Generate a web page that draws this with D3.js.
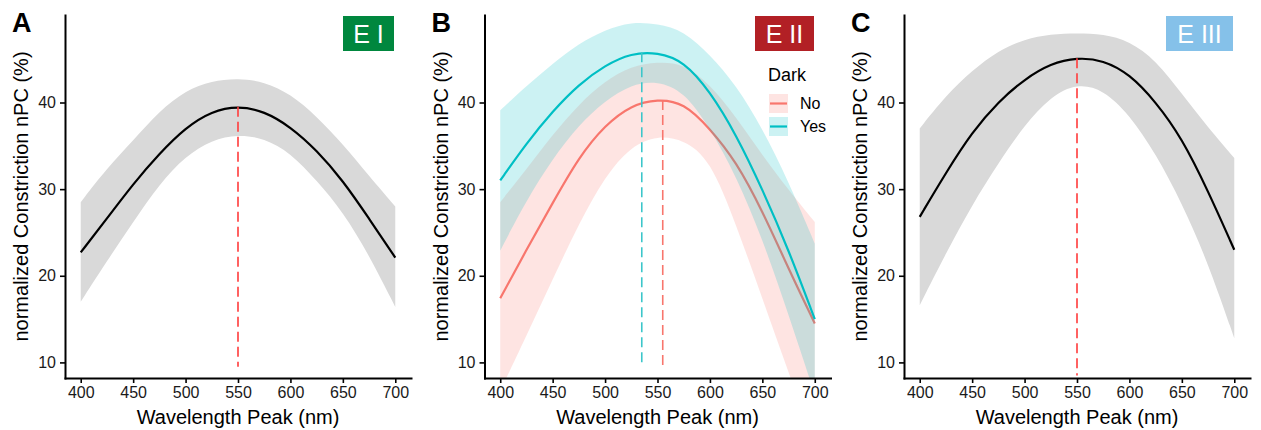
<!DOCTYPE html>
<html>
<head>
<meta charset="utf-8">
<script src="https://cdn.jsdelivr.net/npm/d3@7/dist/d3.min.js"></script>
<style>
  body { margin: 0; background: #fff; }
  svg { font-family: "Liberation Sans", Arial, Helvetica, sans-serif; }
</style>
</head>
<body>
<svg id="chart" width="1261" height="430"></svg>
<script>
// wavelength grid the fitted curves were read at (nm)
const wavelengths = [400, 425, 450, 475, 500, 525, 550, 575, 600, 625, 650, 675, 700];
const xTicks = [400, 450, 500, 550, 600, 650, 700];
const yTicks = [10, 20, 30, 40];

// E I
const e1Fit   = [22.7, 26.6, 30.6, 34.1, 37.1, 39.0, 39.6, 39.0, 37.2, 34.5, 31.0, 26.6, 22.1];
const e1Upper = [28.5, 32.4, 35.6, 39.0, 41.4, 42.5, 42.8, 42.4, 41.0, 38.4, 35.2, 31.5, 28.0];
const e1Lower = [17.0, 21.7, 26.2, 30.6, 33.8, 35.7, 36.3, 35.9, 34.2, 31.0, 27.4, 22.4, 16.4];

// E II, split by Dark
const darkGroups = ["No", "Yes"];
const e2NoFit    = [17.4, 23.0, 28.4, 33.7, 37.4, 39.7, 40.4, 40.0, 37.0, 33.2, 27.5, 20.8, 14.5];
const e2NoUpper  = [28.5, 32.3, 36.3, 39.8, 42.5, 44.2, 44.7, 44.5, 42.1, 38.3, 33.9, 29.9, 26.2];
const e2NoLower  = [6.7, 13.1, 19.6, 26.0, 31.5, 35.0, 36.2, 35.7, 33.5, 25.9, 17.4, 8.8, 0.5];
const e2YesFit   = [31.0, 35.3, 39.0, 42.1, 44.3, 45.7, 45.8, 44.8, 41.3, 36.3, 30.0, 23.0, 15.0];
const e2YesUpper = [39.1, 41.9, 44.5, 46.8, 48.4, 49.3, 49.1, 48.3, 45.5, 42.0, 37.0, 30.9, 23.7];
const e2YesLower = [22.9, 28.7, 33.5, 37.4, 40.2, 42.1, 42.5, 41.3, 37.1, 31.5, 24.3, 15.5, 6.3];

// E III
const e3Fit   = [26.8, 31.9, 36.6, 40.1, 42.7, 44.5, 45.2, 44.9, 43.3, 40.1, 35.9, 29.8, 23.0];
const e3Upper = [37.0, 40.8, 43.7, 46.0, 47.3, 47.9, 48.0, 47.9, 47.1, 44.9, 41.0, 37.1, 33.6];
const e3Lower = [16.6, 22.6, 28.2, 33.0, 37.4, 40.7, 42.2, 41.5, 38.6, 34.1, 28.4, 21.5, 12.8];

// peak wavelength, curve value at peak, bottom of the dashed marker
const e1Peak = [550, 39.5, 9.5];
const e2Peaks = [[555, 40.3, 9.5], [535, 45.8, 9.5]];
const e3Peak = [550, 45.1, 8.5];

const svg = d3.select("#chart");

const panels = [
  {
    letter: "A", left: 65, badge: "E I", badgeColor: "#00873e", badgeX: 343, badgeW: 51,
    series: [{ fit: e1Fit, upper: e1Upper, lower: e1Lower, line: "#000", fill: "#d9d9d9", alpha: 1 }],
    peaks: [{ p: e1Peak, color: "#ff3b3b" }]
  },
  {
    letter: "B", left: 484.5, badge: "E II", badgeColor: "#b22025", badgeX: 755, badgeW: 59,
    series: [
      { fit: e2NoFit, upper: e2NoUpper, lower: e2NoLower, line: "#f8766d", fill: "#f8766d", alpha: 0.2 },
      { fit: e2YesFit, upper: e2YesUpper, lower: e2YesLower, line: "#00bfc4", fill: "#00bfc4", alpha: 0.2 }
    ],
    peaks: [{ p: e2Peaks[0], color: "#f8766d" }, { p: e2Peaks[1], color: "#3cc6ca" }]
  },
  {
    letter: "C", left: 904, badge: "E III", badgeColor: "#85c1e9", badgeX: 1166, badgeW: 67,
    series: [{ fit: e3Fit, upper: e3Upper, lower: e3Lower, line: "#000", fill: "#d9d9d9", alpha: 1 }],
    peaks: [{ p: e3Peak, color: "#ff3b3b" }]
  }
];

panels.forEach((panel, i) => drawPanel(panel, i));
drawLegend();

function drawPanel (panel, i) {
  const top = 15;
  const bottom = 378;
  const width = 346;
  const x = d3.scaleLinear().domain([385, 715]).range([panel.left, panel.left + width]);
  const y = d3.scaleLinear().domain([8.2, 50.1]).range([bottom, top]);

  const g = svg.append("g");

  g.append("clipPath")
      .attr("id", "clip" + i)
    .append("rect")
      .attr("x", panel.left)
      .attr("y", top)
      .attr("width", width)
      .attr("height", bottom - top);

  const plot = g.append("g").attr("clip-path", `url(#clip${i})`);

  const area = d3.area()
      .x((d, k) => x(wavelengths[k]))
      .y0(d => y(d[0]))
      .y1(d => y(d[1]))
      .curve(d3.curveBasis);

  const line = d3.line()
      .x((d, k) => x(wavelengths[k]))
      .y(d => y(d))
      .curve(d3.curveBasis);

  // ribbon then line for each group, like geom_smooth
  panel.series.forEach(s => {
    const band = s.lower.map((lo, k) => [lo, s.upper[k]]);
    plot.append("path")
      .attr("d", area(band))
      .attr("fill", s.fill)
      .attr("fill-opacity", s.alpha);
    plot.append("path")
      .attr("d", line(s.fit))
      .attr("fill", "none")
      .attr("stroke", s.line)
      .attr("stroke-width", 2.2);
  });

  panel.peaks.forEach(pk => {
    plot.append("line")
      .attr("x1", x(pk.p[0]))
      .attr("x2", x(pk.p[0]))
      .attr("y1", y(pk.p[1]))
      .attr("y2", y(pk.p[2]))
      .attr("stroke", pk.color)
      .attr("stroke-width", 1.6)
      .attr("stroke-dasharray", "10,5");
  });

  // axes
  const xAxis = g.append("g")
      .attr("transform", `translate(0,${bottom})`)
      .call(d3.axisBottom(x).tickValues(xTicks).tickSize(5).tickSizeOuter(0).tickPadding(4));
  const yAxis = g.append("g")
      .attr("transform", `translate(${panel.left},0)`)
      .call(d3.axisLeft(y).tickValues(yTicks).tickSize(5).tickSizeOuter(0).tickPadding(4));

  [xAxis, yAxis].forEach(ax => {
    ax.select(".domain").attr("stroke", "#000").attr("stroke-width", 2).attr("stroke-linecap", "square");
    ax.selectAll(".tick line").attr("stroke", "#000").attr("stroke-width", 1.6);
    ax.selectAll(".tick text")
      .attr("font-size", 16)
      .attr("fill", "#1a1a1a")
      .style("font-family", "Liberation Sans, Arial, sans-serif");
  });

  g.append("text")
      .attr("x", panel.left + width / 2)
      .attr("y", 424)
      .attr("text-anchor", "middle")
      .attr("font-size", 20)
      .text("Wavelength Peak (nm)");

  g.append("text")
      .attr("transform", `translate(${panel.left - 37},${(top + bottom) / 2}) rotate(-90)`)
      .attr("text-anchor", "middle")
      .attr("font-size", 20)
      .text("normalized Constriction nPC (%)");

  // panel letter
  g.append("text")
      .attr("x", panel.left - 53)
      .attr("y", 32)
      .attr("font-size", 27)
      .attr("font-weight", "bold")
      .text(panel.letter);

  // coloured badge
  g.append("rect")
      .attr("x", panel.badgeX)
      .attr("y", 16)
      .attr("width", panel.badgeW)
      .attr("height", 35)
      .attr("fill", panel.badgeColor);
  g.append("text")
      .attr("x", panel.badgeX + panel.badgeW / 2)
      .attr("y", 43)
      .attr("text-anchor", "middle")
      .attr("font-size", 25)
      .attr("fill", "#fff")
      .text(panel.badge);
}

function drawLegend () {
  const colors = ["#f8766d", "#00bfc4"];
  const lg = svg.append("g");

  lg.append("text")
      .attr("x", 768)
      .attr("y", 81)
      .attr("font-size", 18)
      .text("Dark");

  darkGroups.forEach((label, k) => {
    const top = 94 + k * 23;
    lg.append("rect")
        .attr("x", 769)
        .attr("y", top)
        .attr("width", 19)
        .attr("height", 19)
        .attr("fill", colors[k])
        .attr("fill-opacity", 0.2);
    lg.append("line")
        .attr("x1", 770)
        .attr("x2", 787)
        .attr("y1", top + 9.5)
        .attr("y2", top + 9.5)
        .attr("stroke", colors[k])
        .attr("stroke-width", 2.2);
    lg.append("text")
        .attr("x", 800)
        .attr("y", top + 15)
        .attr("font-size", 16)
        .text(label);
  });
}
</script>
</body>
</html>
